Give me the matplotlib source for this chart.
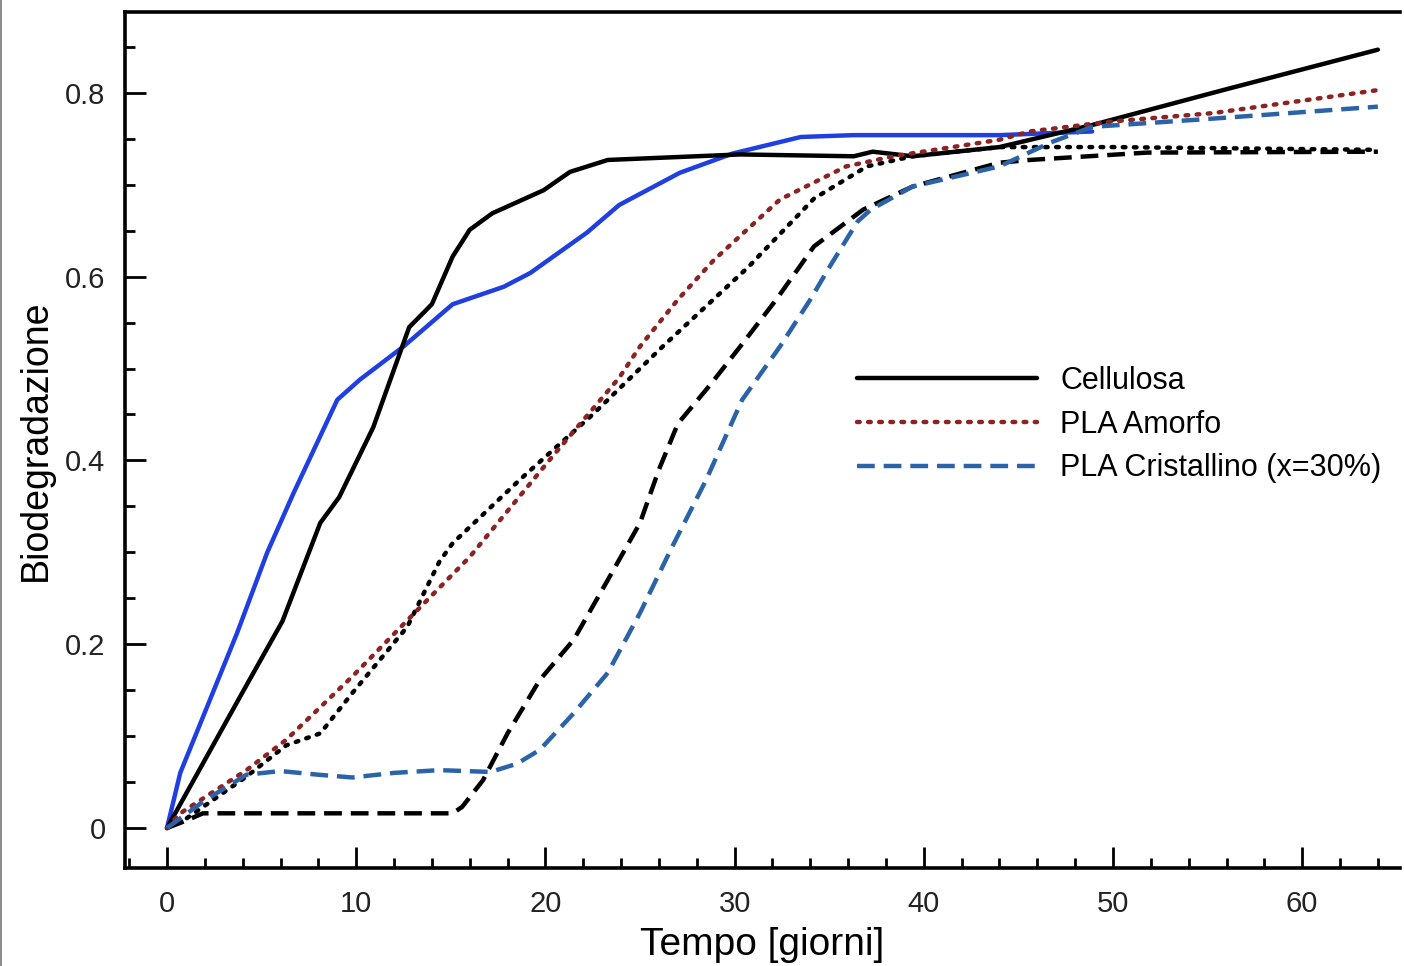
import matplotlib
matplotlib.use('Agg')
import matplotlib.pyplot as plt
from matplotlib.lines import Line2D
from matplotlib.ticker import MultipleLocator, FixedLocator

plt.rcParams['font.family'] = ['Liberation Sans', 'DejaVu Sans']

# Cellulosa (modello, nero continuo)
cell_x = [0, 2, 4, 6.1, 8.1, 9.1, 10.9, 12.8, 14.0, 15.1, 16.0, 17.2, 19.9, 21.3, 23.3,
          30.3, 36.3, 37.3, 39.4, 44.0, 48.9, 56.0, 64.0]
cell_y = [0, 0.074, 0.148, 0.225, 0.332, 0.36, 0.436, 0.545, 0.57, 0.622, 0.651, 0.669,
          0.694, 0.714, 0.727, 0.733, 0.731, 0.736, 0.731, 0.741, 0.765, 0.804, 0.847]

# Cellulosa (sperimentale, blu continuo)
cell_exp_x = [0, 0.7, 3.7, 5.3, 6.7, 9.0, 10.2, 12.5, 15.1, 17.8, 19.2, 22.2, 23.9, 27.1,
              29.9, 33.5, 36.3, 44.0, 48.9]
cell_exp_y = [0, 0.06, 0.212, 0.30, 0.365, 0.466, 0.488, 0.524, 0.57, 0.589, 0.604, 0.648,
              0.678, 0.713, 0.734, 0.752, 0.754, 0.754, 0.758]

# PLA amorfo (modello, rosso puntinato)
amo_x = [0, 0.7, 4.2, 6.3, 9.8, 12.7, 16.0, 20.4, 23.9, 25.0, 27.0, 28.9, 32.4, 35.9,
         38.4, 44.0, 45.6, 50.0, 55.3, 64.0]
amo_y = [0, 0.016, 0.063, 0.096, 0.165, 0.226, 0.295, 0.405, 0.49, 0.524, 0.575, 0.618,
         0.684, 0.72, 0.731, 0.749, 0.758, 0.769, 0.778, 0.803]

# PLA amorfo (sperimentale, nero puntinato)
amo_exp_x = [0, 1, 4.2, 6.3, 8.1, 9.8, 12.7, 14.4, 15.1, 18.7, 22.5, 26.2, 30.7, 34.2,
             37.0, 39.4, 44.0, 50.0, 64.0]
amo_exp_y = [0, 0.01, 0.056, 0.09, 0.103, 0.147, 0.219, 0.29, 0.31, 0.38, 0.45, 0.524,
             0.61, 0.685, 0.72, 0.731, 0.741, 0.741, 0.738]

# PLA cristallino (modello, blu tratteggiato)
cri_x = [0, 2, 4.2, 6.0, 8.0, 9.8, 12.0, 14.4, 17.1, 18.5, 19.7, 21.5, 23.3, 25.0, 26.7,
         28.5, 30.4, 32.4, 34.0, 35.0, 36.5, 37.2, 39.4, 44.0, 46.7, 48.9, 55.3, 64.0]
cri_y = [0, 0.03, 0.058, 0.062, 0.058, 0.055, 0.06, 0.063, 0.061, 0.07, 0.085, 0.125,
         0.169, 0.234, 0.306, 0.379, 0.466, 0.524, 0.575, 0.61, 0.66, 0.673, 0.698, 0.72,
         0.746, 0.763, 0.772, 0.785]

# PLA cristallino (sperimentale, nero tratteggiato)
cri_exp_x = [0, 1, 1.9, 15.1, 15.6, 16.7, 18.0, 19.7, 21.5, 23.3, 25.0, 26.0, 27.0, 28.7,
             30.3, 32.2, 34.2, 36.8, 39.4, 44.0, 45.6, 51.8, 64.0]
cri_exp_y = [0, 0.008, 0.016, 0.016, 0.023, 0.052, 0.103, 0.161, 0.205, 0.27, 0.332, 0.39,
             0.44, 0.482, 0.524, 0.575, 0.633, 0.673, 0.698, 0.724, 0.727, 0.735, 0.736]

x_ticks = [0, 10, 20, 30, 40, 50, 60]
y_ticks = [0, 0.2, 0.4, 0.6, 0.8]
y_tick_labels = ['0', '0.2', '0.4', '0.6', '0.8']

fig = plt.figure(figsize=(14.04, 9.66), dpi=100)
ax = fig.add_axes([125 / 1404, 1 - 868 / 966, 1275 / 1404, 856 / 966])

lw = 3.2
ax.plot(cell_exp_x, cell_exp_y, color='#1f3fe0', lw=lw, solid_capstyle='round')
ax.plot(cell_x, cell_y, color='black', lw=lw, solid_capstyle='round', label='Cellulosa')
ax.plot(amo_exp_x, amo_exp_y, color='black', lw=lw, linestyle=(0, (0.6, 1.9)),
        dash_capstyle='round')
ax.plot(amo_x, amo_y, color='#8b2323', lw=lw, linestyle=(0, (0.6, 1.9)),
        dash_capstyle='round', label='PLA Amorfo')
ax.plot(cri_exp_x, cri_exp_y, color='black', lw=lw, linestyle=(0, (4, 2)))
ax.plot(cri_x, cri_y, color='#2b63a8', lw=lw, linestyle=(0, (4, 2)),
        label='PLA Cristallino (x=30%)')

ax.set_xlim(-2.22, 65.17)
ax.set_ylim(-0.0435, 0.888)

ax.xaxis.set_major_locator(FixedLocator(x_ticks))
ax.xaxis.set_minor_locator(MultipleLocator(2))
ax.yaxis.set_major_locator(FixedLocator(y_ticks))
ax.yaxis.set_minor_locator(MultipleLocator(0.05))
ax.set_yticklabels(y_tick_labels)

ax.tick_params(which='both', direction='in', top=False, right=False, width=2,
               labelsize=21, colors='black', labelcolor='#222222')
ax.tick_params(which='major', length=15)
ax.tick_params(which='minor', length=7)
ax.tick_params(axis='y', pad=14)
ax.tick_params(axis='x', pad=16)

for side in ['left', 'bottom', 'top']:
    ax.spines[side].set_linewidth(2.6)
ax.spines['right'].set_visible(False)

ax.set_xlabel('Tempo [giorni]', fontsize=28, labelpad=6)
ax.set_ylabel('Biodegradazione', fontsize=27, labelpad=8)

ax.legend(loc='upper left', bbox_to_anchor=(857 / 1404, 1 - 366 / 966),
          bbox_transform=fig.transFigure, frameon=False, fontsize=22,
          handlelength=5.9, handletextpad=0.75, labelspacing=0.45,
          borderpad=0, borderaxespad=0)

# bordo grigio sul lato sinistro
fig.add_artist(Line2D([0.0007, 0.0007], [0, 1], color='#777777', lw=1.2,
                      transform=fig.transFigure))

fig.savefig('out.png', dpi=100)
